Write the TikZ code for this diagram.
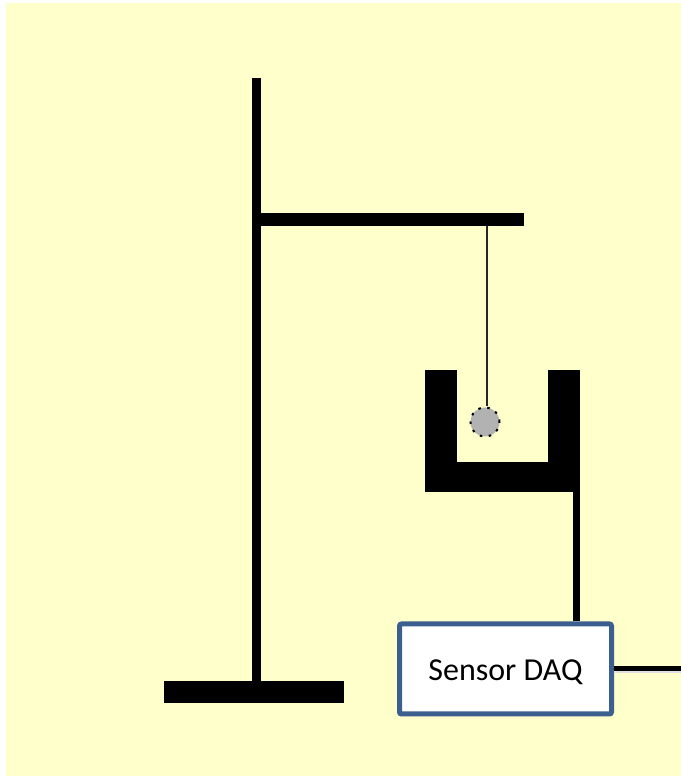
\documentclass[tikz,border=0pt]{standalone}
\usepackage{fontspec}
\setmainfont{Carlito}
\definecolor{paleyellow}{HTML}{FFFFCC}
\definecolor{daqblue}{HTML}{3B5F8F}
\definecolor{bobgrey}{HTML}{B2B2B2}
\tikzset{
	solidbar/.style={rectangle, fill=black, draw=none, inner sep=0pt},
	signalline/.style={draw=black, line width=0.1cm}
}
\begin{document}
\begin{tikzpicture}
	\useasboundingbox (0,0) rectangle (13.62,15.52);

	%Background
	\node (sheet) at (6.87,7.73) [rectangle, fill=paleyellow, draw=none, inner sep=0pt, minimum height=15.46cm, minimum width=13.5cm]{};

	%Stand
	\node (pole) at (5.13,7.84) [solidbar, minimum height=12.24cm, minimum width=0.18cm]{};
	\node (arm) at (7.76,11.13) [solidbar, minimum height=0.26cm, minimum width=5.44cm]{};
	\node (foot) at (5.08,1.68) [solidbar, minimum height=0.44cm, minimum width=3.6cm]{};

	%Pendulum
	\node (bob) at (9.7,7.08) [circle, fill=bobgrey, draw=black, line width=0.04cm, dash pattern=on 0.05cm off 0.13cm, inner sep=0pt, minimum size=0.58cm]{};
	\coordinate (wiretop) at (9.73,11.0);
	\draw[line width=0.04cm, black!85] (wiretop) -- (wiretop |- bob.north);

	%Cup
	\node (cupleft) at (8.82,6.9) [solidbar, minimum height=2.44cm, minimum width=0.64cm]{};
	\node (cupright) at (11.28,6.9) [solidbar, minimum height=2.44cm, minimum width=0.64cm]{};
	\node (cupbottom) at (10.05,5.98) [solidbar, minimum height=0.6cm, minimum width=3.1cm]{};

	%Sensor box
	\coordinate (stemtop) at (11.53,5.68);
	\coordinate (outlet) at (13.62,2.14);
	\node (daq) at (10.11,2.14) [rectangle, fill=white, draw=daqblue, line width=0.1cm, rounded corners=0.04cm, minimum height=1.8cm, minimum width=4.24cm, text height=0.54cm, font=\fontsize{18.2pt}{22pt}\selectfont]{Sensor DAQ};
	\draw[line width=0.14cm] (stemtop) -- (stemtop |- daq.north);
	\draw[line width=0.08cm, black!12, transform canvas={yshift=-0.05cm}] (daq.east) -- (outlet);
	\draw[signalline] (daq.east) -- (outlet);

\end{tikzpicture}
\end{document}
